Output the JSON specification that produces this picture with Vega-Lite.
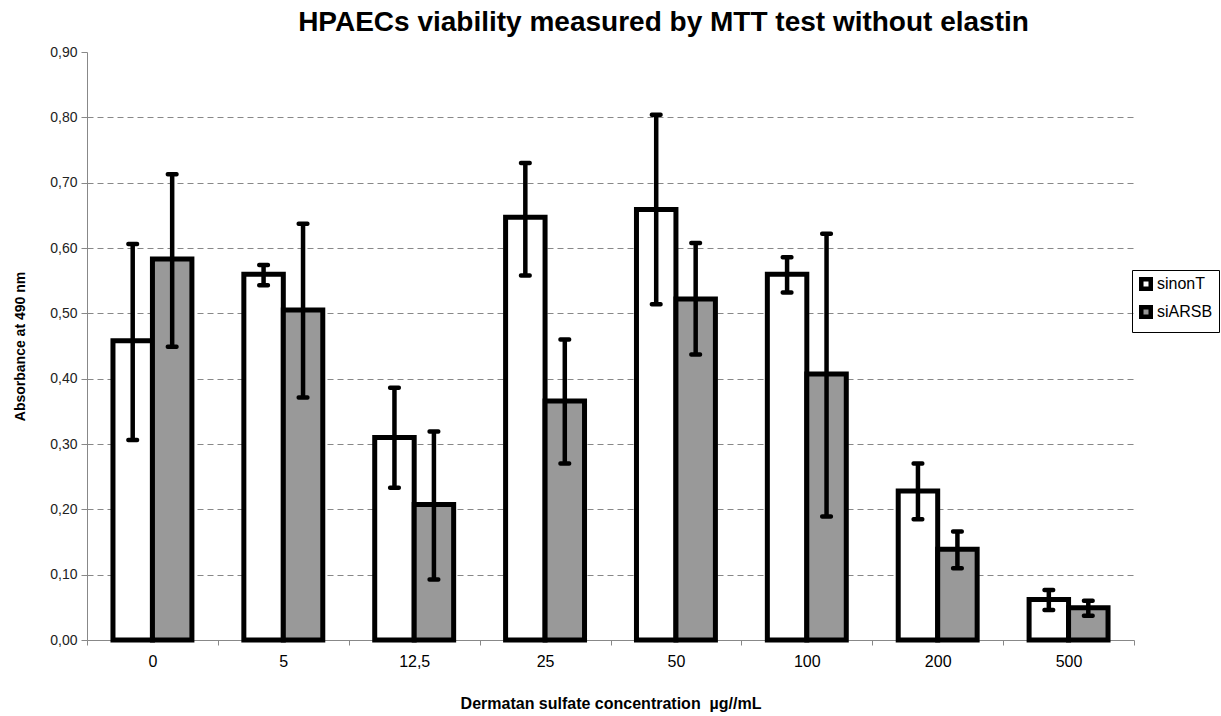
{
  "$schema": "https://vega.github.io/schema/vega-lite/v6.json",
  "autosize": {"type": "none"},
  "padding": {"left": 87, "top": 52, "right": 87, "bottom": 76},
  "width": 1047,
  "height": 588,
  "background": "white",
  "title": {
    "text": "HPAECs viability measured by MTT test without elastin",
    "font": "Liberation Sans",
    "fontSize": 28,
    "fontWeight": "bold",
    "color": "black",
    "anchor": "middle",
    "dx": 53,
    "offset": 8
  },
  "data": {
    "values": [
      {"conc": "0", "series": "sinonT", "value": 0.458, "lo": 0.306, "hi": 0.606},
      {"conc": "0", "series": "siARSB", "value": 0.583, "lo": 0.449, "hi": 0.713},
      {"conc": "5", "series": "sinonT", "value": 0.560, "lo": 0.543, "hi": 0.574},
      {"conc": "5", "series": "siARSB", "value": 0.505, "lo": 0.371, "hi": 0.637},
      {"conc": "12,5", "series": "sinonT", "value": 0.310, "lo": 0.233, "hi": 0.386},
      {"conc": "12,5", "series": "siARSB", "value": 0.2075, "lo": 0.0925, "hi": 0.319},
      {"conc": "25", "series": "sinonT", "value": 0.647, "lo": 0.558, "hi": 0.730},
      {"conc": "25", "series": "siARSB", "value": 0.366, "lo": 0.270, "hi": 0.460},
      {"conc": "50", "series": "sinonT", "value": 0.659, "lo": 0.514, "hi": 0.804},
      {"conc": "50", "series": "siARSB", "value": 0.522, "lo": 0.437, "hi": 0.6075},
      {"conc": "100", "series": "sinonT", "value": 0.560, "lo": 0.532, "hi": 0.586},
      {"conc": "100", "series": "siARSB", "value": 0.407, "lo": 0.189, "hi": 0.622},
      {"conc": "200", "series": "sinonT", "value": 0.228, "lo": 0.185, "hi": 0.270},
      {"conc": "200", "series": "siARSB", "value": 0.139, "lo": 0.110, "hi": 0.166},
      {"conc": "500", "series": "sinonT", "value": 0.062, "lo": 0.046, "hi": 0.0765},
      {"conc": "500", "series": "siARSB", "value": 0.0495, "lo": 0.037, "hi": 0.060}
    ]
  },
  "encoding": {
    "x": {
      "field": "conc",
      "type": "nominal",
      "sort": null,
      "scale": {"paddingInner": 0, "paddingOuter": 0},
      "axis": {
        "title": "Dermatan sulfate concentration \u00a0µg//mL",
        "titleFont": "Liberation Sans",
        "titleFontSize": 16,
        "titleFontWeight": "bold",
        "titleColor": "black",
        "titlePadding": 26,
        "labelFont": "Liberation Sans",
        "labelFontSize": 16,
        "labelColor": "black",
        "labelAngle": 0,
        "labelPadding": 8,
        "tickBand": "extent",
        "ticks": true,
        "tickSize": 5,
        "tickColor": "#888888",
        "domainColor": "#888888",
        "grid": false
      }
    },
    "xOffset": {
      "field": "series",
      "type": "nominal",
      "sort": ["sinonT", "siARSB"],
      "scale": {"paddingInner": 0, "paddingOuter": 0.658}
    }
  },
  "layer": [
    {
      "mark": {"type": "bar", "stroke": "black", "strokeWidth": 5},
      "encoding": {
        "y": {
          "field": "value",
          "type": "quantitative",
          "scale": {"domain": [0, 0.9], "nice": false},
          "axis": {
            "title": "Absorbance at 490 nm",
            "titleFont": "Liberation Sans",
            "titleFontSize": 14,
            "titleFontWeight": "bold",
            "titleColor": "black",
            "titlePadding": 22,
            "values": [0, 0.1, 0.2, 0.3, 0.4, 0.5, 0.6, 0.7, 0.8, 0.9],
            "labelExpr": "replace(format(datum.value, '.2f'), '.', ',')",
            "labelFont": "Liberation Sans",
            "labelFontSize": 14,
            "labelColor": "#222222",
            "labelPadding": 4,
            "tickSize": 6,
            "tickColor": "#888888",
            "domainColor": "#888888",
            "grid": true,
            "gridDash": [6, 4],
            "gridWidth": 1.2,
            "gridColor": {"condition": {"test": "datum.value > 0.85 || datum.value < 0.05", "value": "transparent"}, "value": "#888888"}
          }
        },
        "fill": {
          "field": "series",
          "type": "nominal",
          "sort": ["sinonT", "siARSB"],
          "scale": {"domain": ["sinonT", "siARSB"], "range": ["white", "#999999"]},
          "legend": {
            "title": null,
            "orient": "none",
            "legendX": 1045,
            "legendY": 218,
            "padding": 6,
            "strokeColor": "black",
            "symbolType": "square",
            "symbolSize": 90,
            "symbolStrokeColor": "black",
            "symbolStrokeWidth": 4.5,
            "labelFont": "Liberation Sans",
            "labelFontSize": 16,
            "labelColor": "black",
            "rowPadding": 0,
            "labelOffset": 3
          }
        }
      }
    },
    {
      "mark": {"type": "rule", "color": "black", "strokeWidth": 4.5},
      "encoding": {
        "y": {"field": "lo", "type": "quantitative"},
        "y2": {"field": "hi"}
      }
    },
    {
      "mark": {"type": "tick", "color": "black", "size": 13, "thickness": 4.5, "cornerRadius": 2, "opacity": 1},
      "encoding": {
        "y": {"field": "lo", "type": "quantitative"}
      }
    },
    {
      "mark": {"type": "tick", "color": "black", "size": 13, "thickness": 4.5, "cornerRadius": 2, "opacity": 1},
      "encoding": {
        "y": {"field": "hi", "type": "quantitative"}
      }
    }
  ],
  "config": {
    "view": {"stroke": null}
  }
}
